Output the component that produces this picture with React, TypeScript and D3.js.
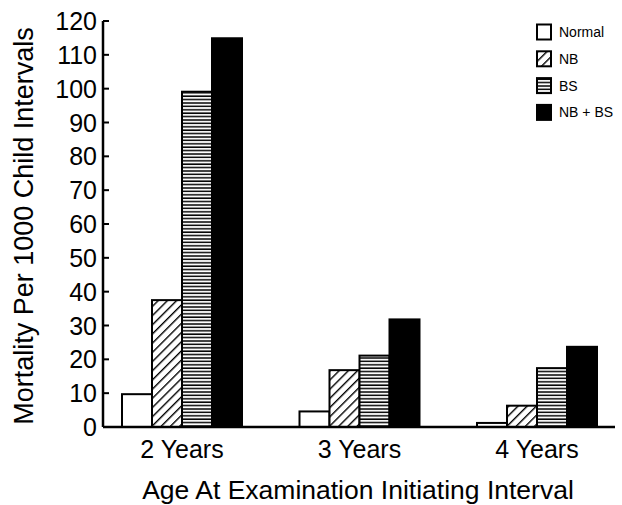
import React from "react";
import * as d3 from "d3";

// Age group at the start of each interval
const categories = ["2 Years", "3 Years", "4 Years"];
// Examination findings groups
const seriesNames = ["Normal", "NB", "BS", "NB + BS"];
// Mortality per 1000 child intervals, one array per finding group
const normalValues = [9.7, 4.6, 1.2];
const nbValues = [37.5, 16.8, 6.3];
const bsValues = [99.1, 21.1, 17.4];
const nbBsValues = [114.9, 31.8, 23.7];
const yTicks = [0, 10, 20, 30, 40, 50, 60, 70, 80, 90, 100, 110, 120];

const seriesValues = [normalValues, nbValues, bsValues, nbBsValues];
const fills = ["#fff", "url(#hatchDiag)", "url(#hatchHoriz)", "#000"];

const W = 622;
const H = 505;
const FONT = "'Liberation Sans', Arial, Helvetica, sans-serif";

export default function App() {
  const y = d3.scaleLinear().domain([0, 120]).range([427, 21]);
  const x0 = d3.scalePoint<string>().domain(categories).range([182, 537]);
  const x1 = d3.scaleBand<string>().domain(seriesNames).range([-60, 60]);
  const axisX = 103;
  const axisRight = 615;

  return (
    <svg
      width={W}
      height={H}
      style={{ position: "absolute", left: 0, top: 0, background: "#fff" }}
      fontFamily={FONT}
    >
      <defs>
        <pattern id="hatchDiag" patternUnits="userSpaceOnUse" width="6.5" height="6.5" patternTransform="rotate(45)">
          <rect width="6.5" height="6.5" fill="#fff" />
          <line x1="0" y1="0" x2="0" y2="6.5" stroke="#000" strokeWidth="2.8" />
        </pattern>
        <pattern id="hatchHoriz" patternUnits="userSpaceOnUse" width="6" height="3.4">
          <rect width="6" height="3.4" fill="#fff" />
          <line x1="0" y1="1" x2="6" y2="1" stroke="#000" strokeWidth="1.5" />
        </pattern>
      </defs>

      {/* bars */}
      {categories.map((cat, ci) => (
        <g key={cat} transform={`translate(${x0(cat)},0)`}>
          {seriesNames.map((s, si) => {
            const v = seriesValues[si][ci];
            return (
              <rect
                key={s}
                x={x1(s)}
                y={y(v)}
                width={x1.bandwidth()}
                height={y(0) - y(v)}
                fill={fills[si]}
                stroke="#000"
                strokeWidth={2}
              />
            );
          })}
        </g>
      ))}

      {/* y axis */}
      <line x1={axisX} y1={y(120)} x2={axisX} y2={y(0)} stroke="#000" strokeWidth={2.5} />
      {yTicks.map((t) => (
        <g key={t}>
          <line x1={axisX} x2={axisX + 6} y1={y(t)} y2={y(t)} stroke="#000" strokeWidth={2} />
          <text x={97} y={y(t)} dy="0.36em" textAnchor="end" fontSize={25} fill="#000">
            {t}
          </text>
        </g>
      ))}

      {/* x axis */}
      <line x1={axisX} y1={y(0)} x2={axisRight} y2={y(0)} stroke="#000" strokeWidth={2.5} />
      {categories.map((c) => (
        <text key={c} x={x0(c)} y={458} textAnchor="middle" fontSize={25} fill="#000">
          {c}
        </text>
      ))}

      {/* axis titles */}
      <text x={358} y={499} textAnchor="middle" fontSize={26.5} fill="#000">
        Age At Examination Initiating Interval
      </text>
      <text
        transform={`translate(33,${(y(0) + y(120)) / 2 + 2}) rotate(-90)`}
        textAnchor="middle"
        fontSize={27}
        fill="#000"
      >
        Mortality Per 1000 Child Intervals
      </text>

      {/* legend */}
      {seriesNames.map((s, i) => {
        const cy = 32 + i * 26.8;
        return (
          <g key={s}>
            <rect x={537} y={cy - 7.5} width={14} height={15} fill={fills[i]} stroke="#000" strokeWidth={2} />
            <text x={559} y={cy} dy="0.36em" fontSize={14} fill="#000">
              {s}
            </text>
          </g>
        );
      })}
    </svg>
  );
}
